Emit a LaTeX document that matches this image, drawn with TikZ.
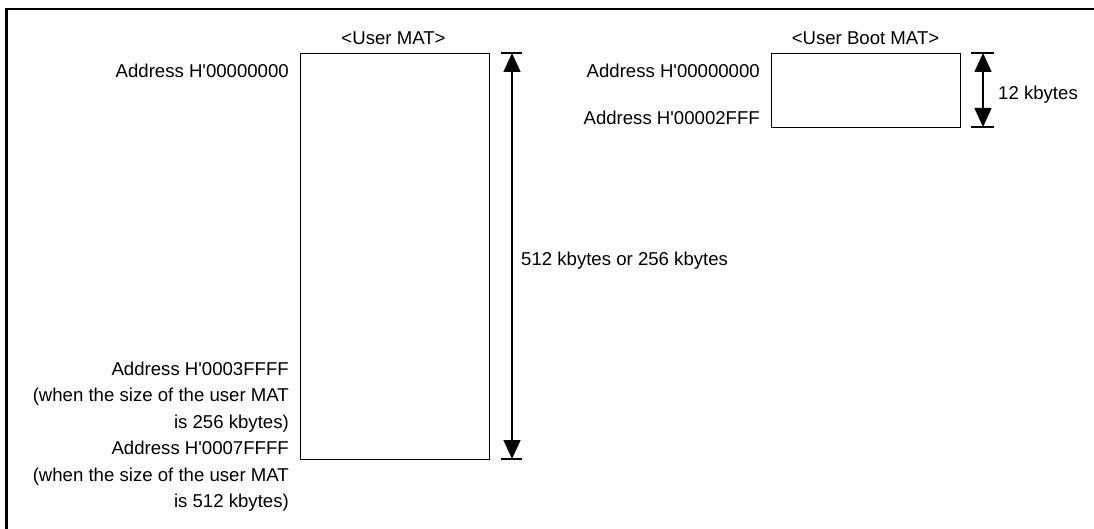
\documentclass[tikz,border=0pt]{standalone}
\usepackage{fontspec}
\setmainfont{Liberation Sans}
\usetikzlibrary{arrows.meta}
\newcommand{\sq}{\textquotesingle}
\begin{document}
\begin{tikzpicture}[x=1pt,y=-1pt,
  txt/.style={inner sep=0pt,font=\fontsize{18.6}{25}\selectfont},
  rt/.style={txt,anchor=base east},
  lt/.style={txt,anchor=base west},
  ct/.style={txt,anchor=base},
  mat/.style={draw,line width=1.2pt},
  tick/.style={line width=1.2pt},
  dim/.style={line width=1.4pt,{Triangle[length=19pt,width=17pt]}-{Triangle[length=19pt,width=17pt]}},
  frame/.style={line width=2.6pt}]
\useasboundingbox (0,0) rectangle (1094,529);
\draw[frame] (6.5,529) -- (6.5,9) -- (1094,9);

% User MAT
\node[mat,minimum width=189pt,minimum height=406pt,inner sep=0pt,anchor=north west] (umat) at (299.5,53) {};
\node[ct] (umatl) at (393.5,44.5) {<User MAT>};
\node[rt] (ua0) at (289,78) {Address H\sq 00000000};
\node[rt] (ua1) at (289,375) {Address H\sq 0003FFFF};
\node[rt] (ua2) at (289,401.5) {(when the size of the user MAT};
\node[rt] (ua3) at (289,428) {is 256 kbytes)};
\node[rt] (ua4) at (289,454.5) {Address H\sq 0007FFFF};
\node[rt] (ua5) at (289,481) {(when the size of the user MAT};
\node[rt] (ua6) at (289,507.5) {is 512 kbytes)};
\coordinate (ut1) at (501,53);
\coordinate (ut2) at (522,53);
\coordinate (ub1) at (501,459);
\coordinate (ub2) at (522,459);
\coordinate (uat) at (512,53);
\coordinate (uab) at (512,459);
\draw[tick] (ut1) -- (ut2);
\draw[tick] (ub1) -- (ub2);
\draw[dim] (uat) -- (uab);
\node[lt] (usz) at (521,265.5) {512 kbytes or 256 kbytes};

% User Boot MAT
\node[mat,minimum width=189pt,minimum height=74pt,inner sep=0pt,anchor=north west] (bmat) at (771,53) {};
\node[ct] (bmatl) at (865.5,44.5) {<User Boot MAT>};
\node[rt] (ba0) at (760,77.5) {Address H\sq 00000000};
\node[rt] (ba1) at (760,125) {Address H\sq 00002FFF};
\coordinate (bt1) at (971,53);
\coordinate (bt2) at (994,53);
\coordinate (bb1) at (971,127);
\coordinate (bb2) at (994,127);
\coordinate (bat) at (983,53);
\coordinate (bab) at (983,127);
\draw[tick] (bt1) -- (bt2);
\draw[tick] (bb1) -- (bb2);
\draw[dim] (bat) -- (bab);
\node[lt] (bsz) at (998,99.5) {12 kbytes};
\end{tikzpicture}
\end{document}
